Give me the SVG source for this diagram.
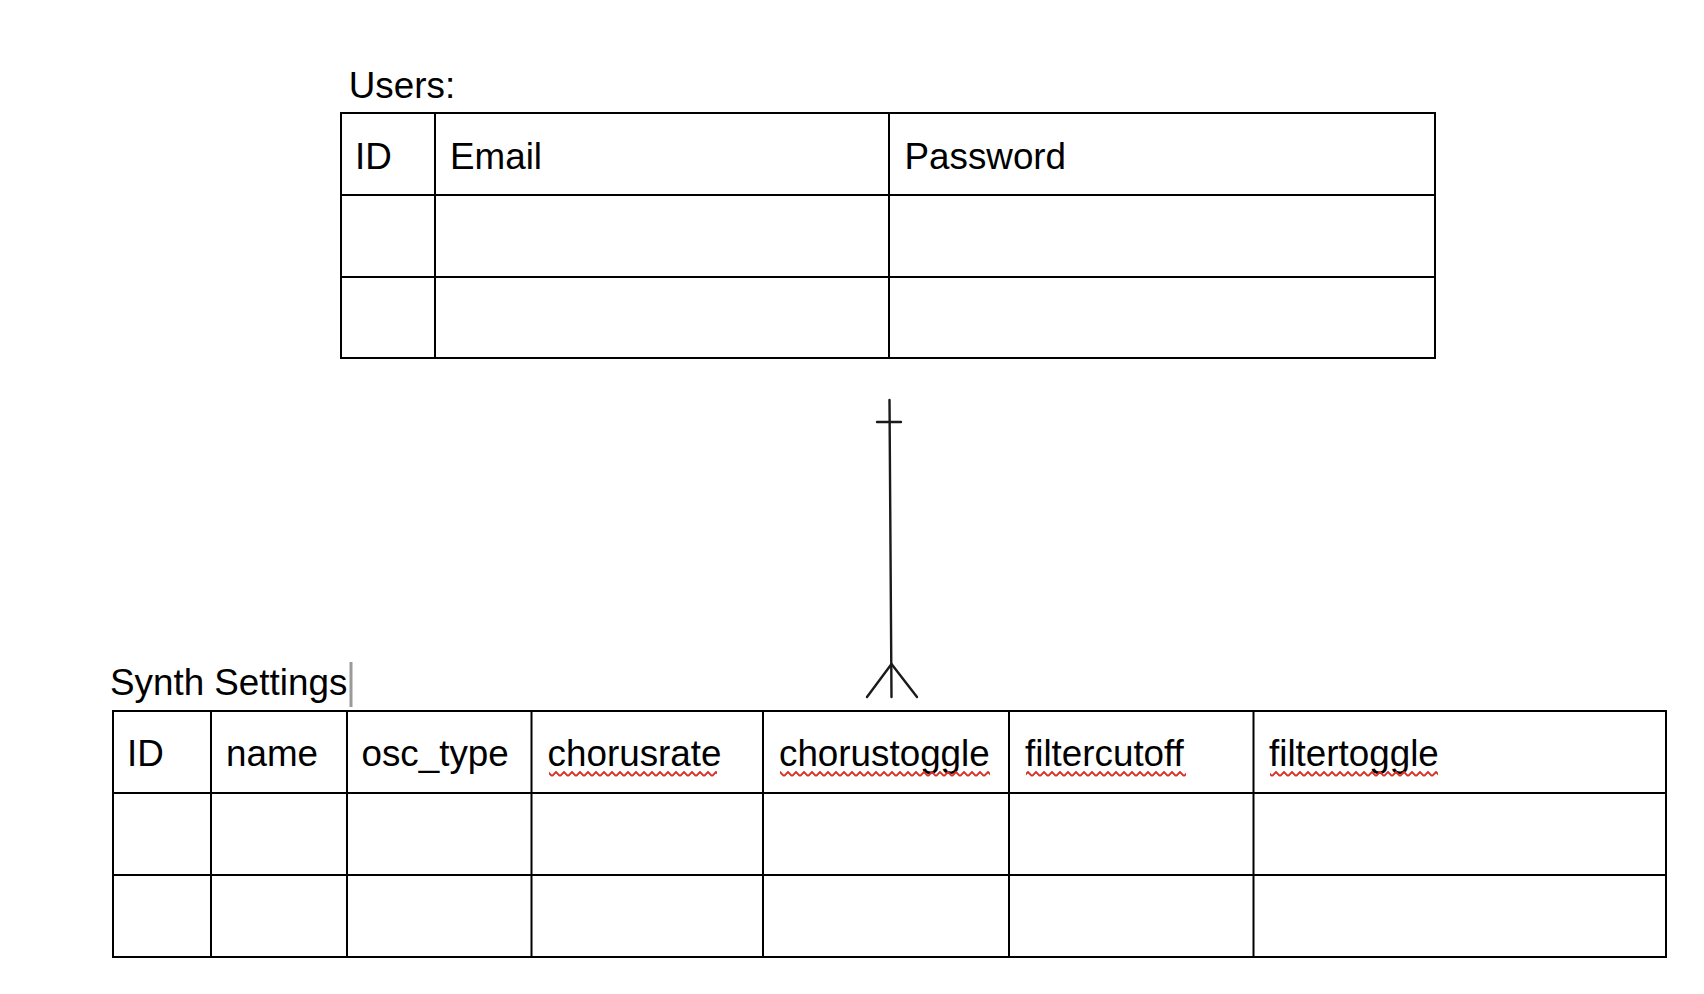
<svg xmlns="http://www.w3.org/2000/svg" width="1704" height="994" viewBox="0 0 1704 994">
<style>
  .t{font-family:"Liberation Sans",Arial,sans-serif;font-size:36.8px;fill:#000}
  .grid{fill:none;stroke:#000;stroke-width:2}
  .conn{fill:none;stroke:#1a1a1a;stroke-width:2.4;stroke-linecap:round}
</style>
<defs>
  <pattern id="squig" width="8" height="6" patternUnits="userSpaceOnUse" x="0" y="771">
    <path d="M0 5 L4 1 L8 5" fill="none" stroke="#d93025" stroke-width="1.9"/>
  </pattern>
</defs>
<rect width="1704" height="994" fill="#fff"/>

<g id="users">
  <text class="t" x="348.8" y="97.5">Users:</text>
  <g id="users-table">
    <rect class="grid" x="341" y="113" width="1094" height="245"/>
    <path class="grid" d="M341 195H1435M341 277H1435M435 113V358M889 113V358"/>
    <text class="t" x="355" y="169">ID</text>
    <text class="t" x="450" y="169">Email</text>
    <text class="t" x="904.5" y="169">Password</text>
  </g>
</g>

<g id="synth-settings">
  <text class="t" x="110" y="695">Synth Settings</text>
  <rect x="349.5" y="662" width="3" height="45" fill="#9a9a9a"/>
  <g id="synth-table">
    <rect class="grid" x="113" y="711" width="1553" height="246"/>
    <path class="grid" d="M113 793H1666M113 875H1666M211 711V957M347 711V957M531.5 711V957M763 711V957M1009 711V957M1253.5 711V957"/>
    <text class="t" x="127" y="766">ID</text>
    <text class="t" x="226" y="766">name</text>
    <text class="t" x="361.5" y="766">osc_type</text>
    <text class="t" x="547.6" y="766">chorusrate</text>
    <text class="t" x="779" y="766">chorustoggle</text>
    <text class="t" x="1025" y="766">filtercutoff</text>
    <text class="t" x="1269" y="766">filtertoggle</text>
    <rect x="549" y="771" width="168" height="6" fill="url(#squig)"/>
    <rect x="780" y="771" width="210" height="6" fill="url(#squig)"/>
    <rect x="1026" y="771" width="160" height="6" fill="url(#squig)"/>
    <rect x="1270" y="771" width="168" height="6" fill="url(#squig)"/>
  </g>
</g>

<g id="connectors">
  <path class="conn" d="M889.5 400L891.5 697"/>
  <path class="conn" d="M877 422H901"/>
  <path class="conn" d="M867 697L891.5 664L917 697"/>
</g>
</svg>
